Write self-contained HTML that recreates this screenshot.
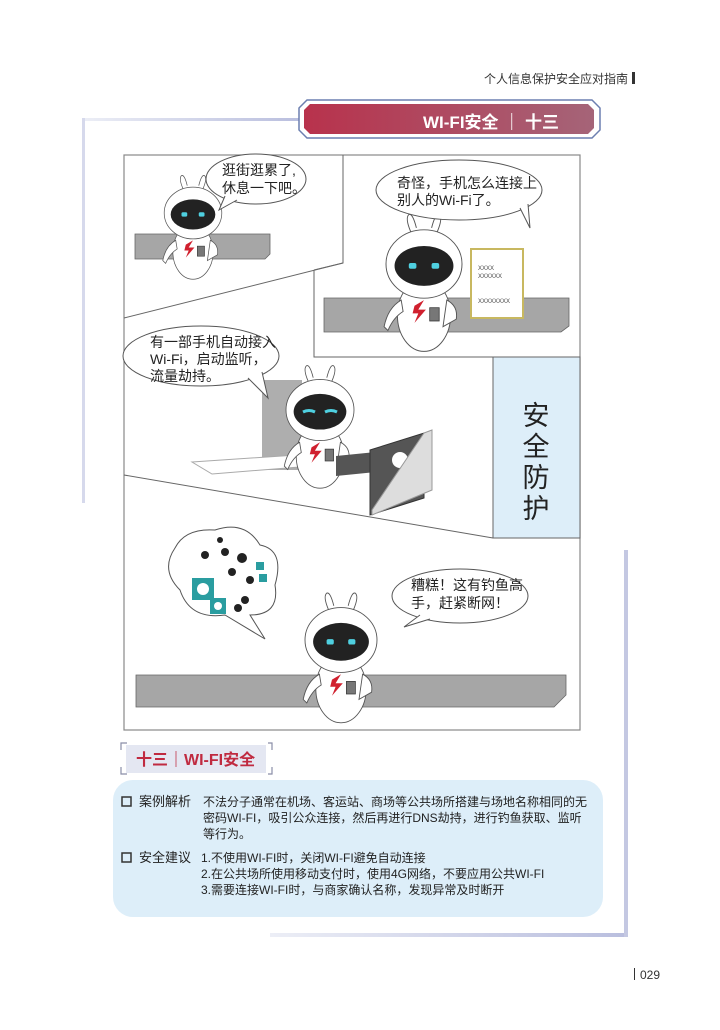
<!DOCTYPE html>
<html><head><meta charset="utf-8"><style>
html,body{margin:0;padding:0;background:#fff}
body{width:720px;height:1030px;position:relative;overflow:hidden;font-family:"Liberation Sans","Noto Sans CJK SC",sans-serif}
</style></head><body>
<svg width="720" height="1030" viewBox="0 0 720 1030" xmlns="http://www.w3.org/2000/svg" style="position:absolute;left:0;top:0">
<defs>
<linearGradient id="rg" x1="0" x2="1"><stop offset="0" stop-color="#b8324c"/><stop offset="1" stop-color="#a56478"/></linearGradient>
<linearGradient id="lg" x1="0" x2="1"><stop offset="0" stop-color="#eceef6"/><stop offset="1" stop-color="#b9bede"/></linearGradient>
<g id="rbase">
  <path d="M-14,-34 q-6,-14 -2,-18 q4,-2 8,14" fill="#fff" stroke="#555" stroke-width="1"/>
  <path d="M14,-34 q6,-14 2,-18 q-4,-2 -8,14" fill="#fff" stroke="#555" stroke-width="1"/>
  <ellipse cx="0" cy="54" rx="28" ry="38" fill="#fff" stroke="#555" stroke-width="1"/>
  <path d="M-24,38 q-14,8 -18,28 l4,4 q6,-14 16,-20z" fill="#fff" stroke="#555" stroke-width="1"/>
  <path d="M24,38 q12,6 10,20 l-14,8z" fill="#fff" stroke="#555" stroke-width="1"/>
  <ellipse cx="0" cy="0" rx="40" ry="36" fill="#fff" stroke="#555" stroke-width="1"/>
  <ellipse cx="0" cy="2" rx="31" ry="21" fill="#222"/>
  <path d="M-10,44 l10,-6 l-6,10 l8,0 l-12,14 l4,-10 l-6,0z" fill="#d0202e"/>
  <rect x="6" y="46" width="10" height="14" fill="#777" stroke="#333" stroke-width="0.8"/>
</g>
<g id="robot">
  <use href="#rbase"/>
  <rect x="-16" y="-1" width="8" height="6" rx="2" fill="#4fd0e0"/>
  <rect x="8" y="-1" width="8" height="6" rx="2" fill="#4fd0e0"/>
</g>
</defs>

<text x="628" y="83" font-size="12" fill="#333" text-anchor="end">个人信息保护安全应对指南</text>
<rect x="632" y="72" width="3" height="12" fill="#333"/>

<rect x="82" y="118" width="220" height="3" fill="url(#lg)"/>
<rect x="82" y="118" width="3" height="385" fill="#d6d9ec"/>
<rect x="270" y="933" width="357" height="4" fill="url(#lg)"/>
<rect x="624" y="550" width="4" height="387" fill="#c4c8e2"/>

<path d="M299,108 l8,-8 h285 l8,8 v22 l-8,8 h-285 l-8,-8z" fill="#fff" stroke="#6c7fb0" stroke-width="1.5"/>
<path d="M304,110 l6,-6 h278 l6,6 v18 l-6,6 h-278 l-6,-6z" fill="url(#rg)"/>
<text x="423" y="128" font-size="17" font-weight="bold" fill="#fff">WI-FI安全 ｜ 十三</text>

<rect x="124" y="155" width="456" height="575" fill="#fff" stroke="#888" stroke-width="1.2"/>
<polyline points="124,318 343,263 343,155" fill="none" stroke="#666" stroke-width="1"/>
<polyline points="314,270 314,357 580,357" fill="none" stroke="#666" stroke-width="1"/>
<line x1="314" y1="270" x2="343" y2="263" stroke="#666"/>
<rect x="493" y="357" width="87" height="181" fill="#ddeef9" stroke="#666" stroke-width="1"/>
<line x1="124" y1="475" x2="493" y2="538" stroke="#666"/>
<text font-size="27" fill="#222" text-anchor="middle"><tspan x="536" y="425">安</tspan><tspan x="536" y="456">全</tspan><tspan x="536" y="487">防</tspan><tspan x="536" y="518">护</tspan></text>

<path d="M135,234 h135 v20 l-5,5 h-130z" fill="#a6a6a6" stroke="#666" stroke-width="0.8"/>
<use href="#robot" transform="translate(193,213) scale(0.72)"/>
<ellipse cx="256" cy="179" rx="50" ry="25" fill="#fff" stroke="#555"/>
<path d="M225,196 l-6,14 l18,-10" fill="#fff" stroke="#555"/>
<text font-size="14" fill="#222"><tspan x="222" y="175">逛街逛累了,</tspan><tspan x="222" y="193">休息一下吧。</tspan></text>

<path d="M324,298 h245 v28 l-8,6 h-237z" fill="#a6a6a6" stroke="#666" stroke-width="0.8"/>
<use href="#robot" transform="translate(424,264) scale(0.95)"/>
<rect x="471" y="249" width="52" height="69" fill="#fff" stroke="#c8b860" stroke-width="2"/>
<text font-size="6" fill="#444"><tspan x="478" y="270">XXXX</tspan><tspan x="478" y="278">XXXXXX</tspan><tspan x="478" y="303">XXXXXXXX</tspan></text>
<ellipse cx="459" cy="190" rx="83" ry="30" fill="#fff" stroke="#555"/>
<path d="M520,208 l10,20 l-2,-24" fill="#fff" stroke="#555"/>
<text font-size="14" fill="#222"><tspan x="397" y="188">奇怪，手机怎么连接上</tspan><tspan x="397" y="205">别人的Wi-Fi了。</tspan></text>

<path d="M262,380 h40 v90 h-40z" fill="#9a9a9a" opacity="0.8"/>
<path d="M192,462 l150,-10 l20,10 l-150,12z" fill="#fff" stroke="#aaa"/>
<use href="#rbase" transform="translate(320,410) scale(0.85)"/>
<path d="M303,412 q6,-3 12,0 M325,412 q6,-3 12,0" fill="none" stroke="#4fd0e0" stroke-width="3"/>
<path d="M336,476 l40,-4 l0,-20 l-40,4z" fill="#555"/>
<path d="M370,450 l54,-17 v65 l-54,17z" fill="#555" stroke="#333"/>
<circle cx="400" cy="460" r="8" fill="#fff"/>
<path d="M424,433 l8,-3 v60 l-60,25 v-5z" fill="#ddd" stroke="#999"/>
<ellipse cx="201" cy="356" rx="78" ry="30" fill="#fff" stroke="#555"/>
<path d="M248,378 l20,20 l-6,-26" fill="#fff" stroke="#555"/>
<text font-size="14" fill="#222"><tspan x="150" y="347">有一部手机自动接入</tspan><tspan x="150" y="364">Wi-Fi，启动监听，</tspan><tspan x="150" y="381">流量劫持。</tspan></text>

<path d="M175,548 q10,-20 40,-18 q30,-10 45,15 q25,5 15,40 q5,30 -25,30 l15,24 l-40,-24 q-35,5 -45,-25 q-20,-20 -5,-42z" fill="#fff" stroke="#555"/>
<g fill="#222">
<circle cx="205" cy="555" r="4"/><circle cx="225" cy="552" r="4"/><circle cx="242" cy="558" r="5"/><circle cx="232" cy="572" r="4"/><circle cx="250" cy="580" r="4"/><circle cx="245" cy="600" r="4"/><circle cx="238" cy="608" r="4"/><circle cx="220" cy="540" r="3"/>
</g>
<rect x="192" y="578" width="22" height="22" fill="#2a9da0"/><circle cx="203" cy="589" r="6" fill="#fff"/>
<rect x="210" y="598" width="16" height="16" fill="#2a9da0"/><circle cx="218" cy="606" r="4" fill="#fff"/>
<rect x="256" y="562" width="8" height="8" fill="#2a9da0"/><rect x="259" y="574" width="8" height="8" fill="#2a9da0"/>
<path d="M136,675 h430 v20 l-12,12 h-418z" fill="#a6a6a6" stroke="#666" stroke-width="0.8"/>
<use href="#robot" transform="translate(341,640) scale(0.9)"/>
<ellipse cx="460" cy="596" rx="68" ry="27" fill="#fff" stroke="#555"/>
<path d="M420,615 l-16,12 l26,-8" fill="#fff" stroke="#555"/>
<text font-size="14" fill="#222"><tspan x="411" y="590">糟糕！这有钓鱼高</tspan><tspan x="411" y="608">手，赶紧断网！</tspan></text>

<path d="M121,750 v-7 h6 M121,767 v7 h6 M268,743 h4 v7 M268,774 h4 v-7" fill="none" stroke="#8a8ea8" stroke-width="1.2"/>
<rect x="126" y="745" width="140" height="28" fill="#e4e7f2"/>
<text x="136" y="765" font-size="16" font-weight="bold" fill="#c02a40">十三｜WI-FI安全</text>

<rect x="113" y="780" width="490" height="137" rx="20" fill="#ddeef9"/>
<g font-size="12" fill="#222">
<rect x="122" y="797" width="9" height="9" fill="none" stroke="#333" stroke-width="1.5"/>
<text x="139" y="806" font-size="13">案例解析</text>
<text x="203" y="806">不法分子通常在机场、客运站、商场等公共场所搭建与场地名称相同的无</text>
<text x="203" y="822">密码WI-FI，吸引公众连接，然后再进行DNS劫持，进行钓鱼获取、监听</text>
<text x="203" y="838">等行为。</text>
<rect x="122" y="853" width="9" height="9" fill="none" stroke="#333" stroke-width="1.5"/>
<text x="139" y="862" font-size="13">安全建议</text>
<text x="201" y="862">1.不使用WI-FI时，关闭WI-FI避免自动连接</text>
<text x="201" y="878">2.在公共场所使用移动支付时，使用4G网络，不要应用公共WI-FI</text>
<text x="201" y="894">3.需要连接WI-FI时，与商家确认名称，发现异常及时断开</text>
</g>

<rect x="634" y="968" width="1" height="12" fill="#333"/>
<text x="640" y="979" font-size="12" fill="#333">029</text>
</svg>
</body></html>
